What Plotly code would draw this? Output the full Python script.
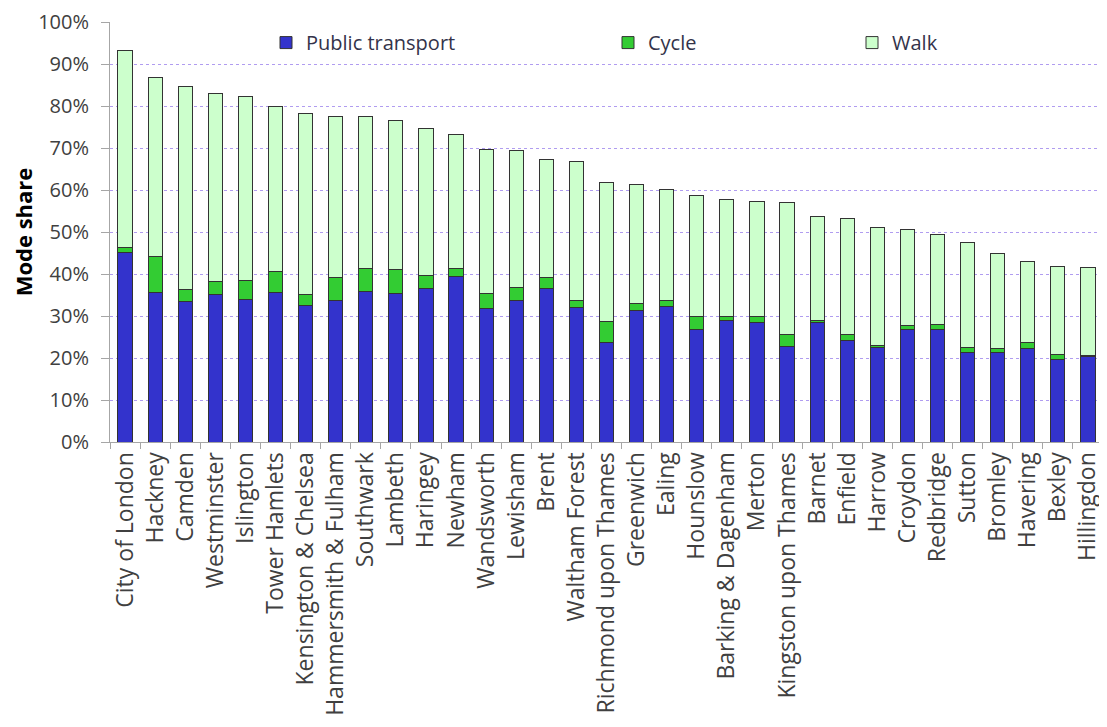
import plotly.graph_objects as go

boroughs = ["City of London", "Hackney", "Camden", "Westminster", "Islington", "Tower Hamlets",
            "Kensington & Chelsea", "Hammersmith & Fulham", "Southwark", "Lambeth", "Haringey",
            "Newham", "Wandsworth", "Lewisham", "Brent", "Waltham Forest", "Richmond upon Thames",
            "Greenwich", "Ealing", "Hounslow", "Barking & Dagenham", "Merton",
            "Kingston upon Thames", "Barnet", "Enfield", "Harrow", "Croydon", "Redbridge",
            "Sutton", "Bromley", "Havering", "Bexley", "Hillingdon"]

# cumulative tops (percent)
pt_top = [45.1, 35.6, 33.5, 35.1, 33.9, 35.6, 32.6, 33.8, 35.8, 35.3, 36.6, 39.4, 31.7, 33.8,
          36.5, 32.1, 23.7, 31.2, 32.2, 26.9, 29.0, 28.5, 22.7, 28.4, 24.2, 22.4, 26.8, 26.8,
          21.4, 21.4, 22.3, 19.7, 20.3]
cycle_top = [46.3, 44.1, 36.3, 38.1, 38.5, 40.6, 35.1, 39.1, 41.2, 41.1, 39.7, 41.2, 35.3, 36.8,
             39.1, 33.8, 28.6, 32.9, 33.8, 30.0, 30.0, 29.9, 25.5, 29.0, 25.5, 22.9, 27.8, 28.0,
             22.5, 22.2, 23.6, 20.8, 20.6]
total_top = [93.3, 86.8, 84.6, 83.0, 82.2, 80.0, 78.3, 77.6, 77.5, 76.5, 74.7, 73.3, 69.6, 69.4,
             67.3, 66.9, 61.7, 61.3, 60.2, 58.7, 57.8, 57.2, 57.1, 53.8, 53.2, 51.1, 50.5, 49.3,
             47.5, 44.9, 42.9, 41.8, 41.6]

public_transport = pt_top
cycle = [round(c - p, 2) for c, p in zip(cycle_top, pt_top)]
walk = [round(t - c, 2) for t, c in zip(total_top, cycle_top)]

line = dict(color="#333333", width=1)
fig = go.Figure()
fig.add_trace(go.Bar(x=boroughs, y=public_transport, name="Public transport", showlegend=True,
                     marker=dict(color="#3333CC", line=line), legend="legend"))
fig.add_trace(go.Bar(x=boroughs, y=cycle, name="Cycle", showlegend=True,
                     marker=dict(color="#33CC33", line=line), legend="legend2"))
fig.add_trace(go.Bar(x=boroughs, y=walk, name="Walk", showlegend=True,
                     marker=dict(color="#CCFFCC", line=line), legend="legend3"))

# page body has an 8px default margin, so the figure is shrunk and offset to compensate
OFF = 8
W, H = 1107 - OFF, 727 - OFF
L, R, T = 110 - OFF, 4, 22 - OFF
B = H - (442 - OFF)
pw = W - L - R

def lx(px):
    return (px - (L + OFF)) / pw

legend_common = dict(orientation="h", yanchor="middle", y=0.951, xanchor="left",
                     bgcolor="rgba(0,0,0,0)", font=dict(family="Open Sans", size=20, color="#33334A"),
                     itemwidth=30)

fig.update_layout(
    width=W, height=H,
    margin=dict(l=L, r=R, t=T, b=B),
    barmode="stack",
    bargap=0.53,
    showlegend=True,
    plot_bgcolor="white",
    paper_bgcolor="white",
    font=dict(family="Open Sans", color="#404040"),
    legend=dict(legend_common, x=lx(266)),
    legend2=dict(legend_common, x=lx(608)),
    legend3=dict(legend_common, x=lx(852)),
    xaxis=dict(
        automargin=False,
        tickangle=-90,
        tickfont=dict(family="Open Sans", size=23, color="#404040"),
        showline=True, linecolor="#A6A6A6", linewidth=1,
        ticks="outside", tickson="boundaries", ticklen=6, tickcolor="#A6A6A6",
        showgrid=False,
    ),
    yaxis=dict(
        automargin=False,
        range=[0, 100], dtick=10, ticksuffix="%",
        tickfont=dict(family="Open Sans", size=20, color="#404040"),
        ticklabelstandoff=8,
        showline=True, linecolor="#A6A6A6", linewidth=1,
        ticks="outside", ticklen=8, tickcolor="#A6A6A6",
        showgrid=True, gridcolor="#B09CF0", griddash="dot", gridwidth=1,
        zeroline=False,
        title=dict(text="<b>Mode share</b>", font=dict(family="Open Sans", size=22, color="#000000"),
                   standoff=10),
    ),
)

fig.write_html("out.html")
